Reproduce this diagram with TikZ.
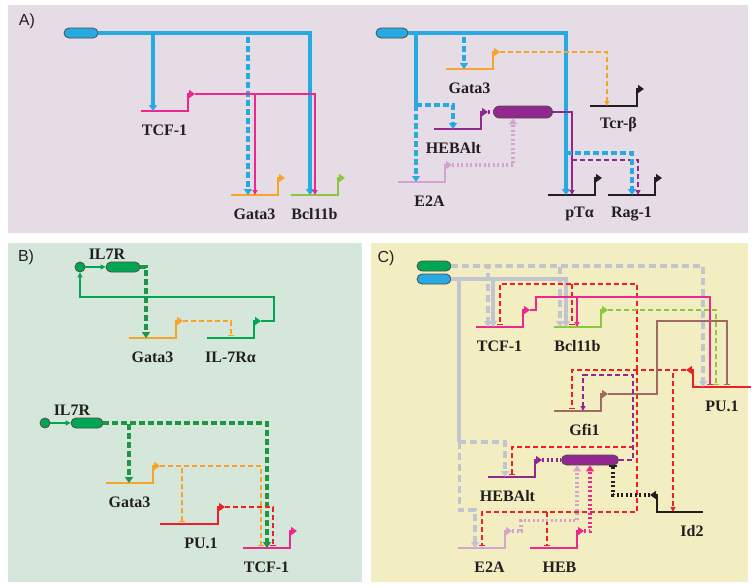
\documentclass[tikz,border=0pt]{standalone}
\usepackage{fontspec}
\setmainfont{Liberation Serif}
\setsansfont{Liberation Sans}
\usepackage{tikz}
\usetikzlibrary{arrows.meta, positioning, calc}

\definecolor{bgA}{RGB}{230,220,230}
\definecolor{bgB}{RGB}{213,230,218}
\definecolor{bgC}{RGB}{242,238,194}
\definecolor{cblue}{RGB}{39,170,225}
\definecolor{cmag}{RGB}{236,40,142}
\definecolor{corange}{RGB}{247,164,42}
\definecolor{clime}{RGB}{141,198,63}
\definecolor{cpurple}{RGB}{146,39,143}
\definecolor{clilac}{RGB}{214,162,208}
\definecolor{cgreen}{RGB}{0,166,81}
\definecolor{cdkgreen}{RGB}{30,150,70}
\definecolor{cred}{RGB}{237,32,39}
\definecolor{cbrown}{RGB}{158,106,98}
\definecolor{cgray}{RGB}{192,197,208}
\definecolor{cblack}{RGB}{35,31,32}

\tikzset{
  paneltag/.style={font=\sffamily\fontsize{16}{18}\selectfont, text=cblack},
  genelabel/.style={font=\bfseries\fontsize{16}{18}\selectfont, text=cblack,
                    inner sep=0pt},
  genebody/.style={line width=2.8pt, -{Triangle[length=6pt,width=8pt]}},
  capsule/.style={draw=cblack!80, line width=0.8pt, fill=#1, rounded corners=5pt,
                  minimum width=34pt, minimum height=10pt, inner sep=0pt},
  ligand/.style={circle, draw=cblack!80, line width=0.8pt, fill=cgreen,
                 minimum size=10pt, inner sep=0pt},
  arr/.style={-{Triangle[length=5pt,width=5pt]}},
  bigarr/.style={-{Triangle[length=6pt,width=8pt]}},
  inh/.style={-{Bar[width=6pt,line width=1.3pt]}},
  solidthick/.style={line width=3.6pt},
  dashthick/.style={line width=3.6pt, dash pattern=on 6pt off 3pt},
  dotthick/.style={line width=3.2pt, dash pattern=on 2pt off 2.5pt},
  thinline/.style={line width=1.5pt},
  dashthin/.style={line width=1.4pt, dash pattern=on 5pt off 3pt},
  graydash/.style={line width=3.6pt, draw=cgray, dash pattern=on 7pt off 4pt},
  graysolid/.style={line width=4pt, draw=cgray},
  reddash/.style={line width=1.4pt, draw=cred, dash pattern=on 5pt off 3pt}
}

% gene: [label opts]{name}{base start}{length}{colour}{label}
\newcommand{\gene}[6][]{%
  \coordinate (#2) at (#3);
  \draw[genebody, draw=#5] (#2) -- ++(#4,0) coordinate (#2-e)
    -- ++(0,-17) -- ++(7,0) coordinate (#2-p);
  \node[genelabel, #1] (#2-l) at ($(#2)+(#4/2,19)$) {#6};
}
% reversed gene, promoter on the left end
\newcommand{\rgene}[6][]{%
  \coordinate (#2) at (#3);
  \draw[genebody, draw=#5] ($(#2)+(#4,0)$) coordinate (#2-e) -- (#2)
    -- ++(0,-17) -- ++(-7,0) coordinate (#2-p);
  \node[genelabel, #1] (#2-l) at ($(#2)+(#4/2,19)$) {#6};
}

\begin{document}
\begin{tikzpicture}[x=1pt, y=-1pt]
  \useasboundingbox (0,0) rectangle (756,587);

  % panels
  \fill[bgA] (8,5) rectangle (748,233);
  \fill[bgB] (8,243) rectangle (362,582);
  \fill[bgC] (371,243) rectangle (748,582);
  \node[paneltag] (tagA) at (27,21) {A)};
  \node[paneltag] (tagB) at (26,257) {B)};
  \node[paneltag] (tagC) at (386,258) {C)};

  % A, left
  \node[capsule=cblue] (capA) at (81,33) {};
  \gene{tcfA}{141,111}{47}{cmag}{TCF-1}
  \gene{gataA}{231,195}{47}{corange}{Gata3}
  \gene{bclA}{291,195}{47}{clime}{Bcl11b}

  \draw[solidthick, draw=cblue, bigarr] (capA.east) -| ($(bclA)+(19,0)$);
  \draw[solidthick, draw=cblue, bigarr] (capA.east) -| ($(tcfA)+(12,0)$);
  \draw[dashthick, draw=cblue, bigarr] ($(gataA)+(17,-158)$) -- ($(gataA)+(17,0)$);
  \draw[thinline, draw=cmag, arr] (tcfA-p) -| ($(bclA)+(24,0)$);
  \draw[thinline, draw=cmag, arr] (tcfA-p) -| ($(gataA)+(24,0)$);

  % A, right
  \node[capsule=cblue, minimum width=32pt] (capA2) at (392,33) {};
  \node[capsule=cpurple, minimum width=59pt, minimum height=12pt,
        rounded corners=6pt] (cxA) at (523,112) {};
  \gene{gataA2}{446,69}{47}{corange}{Gata3}
  \gene[xshift=5pt]{tcrA}{590,106}{47}{cblack}{Tcr-β}
  \gene[xshift=-4pt]{hebaltA}{434,129}{47}{cpurple}{HEBAlt}
  \gene[xshift=8pt]{e2aA}{398,182}{47}{clilac}{E2A}
  \gene[xshift=8pt]{ptaA}{548,195}{47}{cblack}{pTα}
  \gene{ragA}{608,195}{47}{cblack}{Rag-1}

  \draw[solidthick, draw=cblue, bigarr] (capA2.east) -| ($(ptaA)+(18,0)$);
  \draw[solidthick, draw=cblue] (capA2.east) -| ($(e2aA)+(18,-77)$) coordinate (splitA);
  \draw[dashthick, draw=cblue, bigarr] (splitA) -- ($(e2aA)+(18,0)$);
  \draw[dashthick, draw=cblue, bigarr] (splitA) -| ($(hebaltA)+(19,0)$);
  \draw[dashthick, draw=cblue, bigarr] ($(gataA2)+(18,-32)$) -- ($(gataA2)+(18,0)$);
  \draw[dashthin, draw=corange, arr] (gataA2-p) -| ($(tcrA)+(17,0)$);
  \draw[dotthick, draw=cpurple] (hebaltA-p) -- (cxA.west);
  \draw[dotthick, draw=clilac, bigarr] (e2aA-p) -| ($(cxA.south)+(-10,0)$);
  \draw[thinline, draw=cpurple, arr] (cxA.east) -| ($(ptaA)+(24,0)$);
  \draw[dashthin, draw=cpurple, arr] ($(ptaA)+(24,-35)$) -| ($(ragA)+(30,0)$);
  \draw[dashthick, draw=cblue, bigarr] ($(ptaA)+(18,-42)$) -| ($(ragA)+(24,0)$);

  % B, top
  \node[genelabel] (il7rB1) at (107,254) {IL7R};
  \node[ligand] (cirB1) at (80,267) {};
  \node[capsule=cgreen] (capB1) at (123,267) {};
  \gene{gataB1}{129,338}{47}{corange}{Gata3}
  \gene{il7B}{207,338}{47}{cgreen}{IL-7Rα}

  \draw[line width=2pt, draw=cgreen, arr] (cirB1) -- (capB1);
  \draw[dashthick, draw=cdkgreen, bigarr] (capB1.east) -| ($(gataB1)+(17,0)$);
  \draw[dashthin, draw=corange, inh] (gataB1-p) -| ($(il7B)+(24,-2)$);
  \draw[thinline, draw=cgreen, arr] (il7B-p) -- ++(13,0) |- ($(cirB1)+(0,30)$) -- (cirB1);

  % B, bottom
  \node[genelabel] (il7rB2) at (72,410) {IL7R};
  \node[ligand] (cirB2) at (45,423) {};
  \node[capsule=cgreen, minimum width=32pt] (capB2) at (87,423) {};
  \gene{gataB2}{106,483}{47}{corange}{Gata3}
  \gene[xshift=12pt]{puB2}{160,524}{58}{cred}{PU.1}
  \gene{tcfB2}{243,548}{47}{cmag}{TCF-1}

  \draw[line width=2pt, draw=cgreen, arr] (cirB2) -- (capB2);
  \draw[dashthick, draw=cdkgreen, bigarr] (capB2.east) -| ($(tcfB2)+(24,0)$);
  \draw[dashthick, draw=cdkgreen, bigarr] (capB2.east) -| ($(gataB2)+(23,0)$);
  \draw[dashthin, draw=corange, inh] (gataB2-p) -| ($(tcfB2)+(18,-2)$);
  \draw[dashthin, draw=corange, inh] (gataB2-p) -| ($(puB2)+(22,-2)$);
  \draw[dashthin, draw=cred, inh] (puB2-p) -| ($(tcfB2)+(30,-2)$);

  % C
  \node[capsule=cgreen] (capC1) at (434,266) {};
  \node[capsule=cblue] (capC2) at (434,279) {};
  \node[capsule=cpurple, minimum width=57pt] (cxC) at (590,460) {};
  \gene{tcfC}{476,327}{47}{cmag}{TCF-1}
  \gene{bclC}{554,327}{47}{clime}{Bcl11b}
  \gene[xshift=7pt]{gfiC}{554,411}{47}{cbrown}{Gfi1}
  \rgene{puC}{693,387}{58}{cred}{PU.1}
  \gene[xshift=-4pt]{hebaltC}{488,477}{47}{cpurple}{HEBAlt}
  \gene[xshift=8pt]{e2aC}{458,548}{47}{clilac}{E2A}
  \gene[xshift=6pt]{hebC}{530,548}{47}{cmag}{HEB}
  \rgene[xshift=12pt]{id2C}{657,512}{46}{cblack}{Id2}

  % grey inputs
  \draw[graydash, bigarr] (capC1.east) -| ($(puC)+(10,0)$);
  \draw[graydash, bigarr] (capC1.east) -| ($(tcfC)+(12,0)$);
  \draw[graydash, bigarr] (capC1.east) -| ($(bclC)+(6,0)$);
  \draw[graysolid, bigarr] (capC2.east) -| ($(tcfC)+(17,0)$);
  \draw[graysolid, bigarr] (capC2.east) -| ($(bclC)+(12,0)$);
  \draw[graysolid] (capC2.east) -- ++(8,0) -- ++(0,163) coordinate (grC);
  \draw[graydash, bigarr] (grC) -| ($(hebaltC)+(17,0)$);
  \draw[graydash, bigarr] (grC) -- ++(0,68) -| ($(e2aC)+(17,0)$);

  % PU.1 outputs
  \coordinate (rjC) at ($(puC-p)+(-49,0)$);
  \draw[reddash, inh] (puC-p) -| ($(gfiC)+(18,-2)$);
  \draw[reddash, arr] (puC-p) -| ($(id2C)+(16,0)$);
  \draw[reddash, inh] (rjC) |- ($(tcfC)+(24,-43)$) -- ($(tcfC)+(24,-2)$);
  \draw[reddash, inh] ($(bclC)+(18,-43)$) -- ($(bclC)+(18,-2)$);
  \draw[reddash, inh] (rjC) |- ($(hebaltC)+(24,-30)$) -- ($(hebaltC)+(24,-2)$);
  \draw[reddash, inh] (rjC) |- ($(e2aC)+(24,-36)$) -- ($(e2aC)+(24,-2)$);
  \draw[reddash, inh] ($(hebC)+(17,-36)$) -- ($(hebC)+(17,-2)$);

  % TCF-1, Bcl11b, Gfi1 outputs
  \draw[thinline, draw=cmag, inh] (tcfC-p) -- ++(6,0) |- ($(puC)+(17,-90)$)
      -- ($(puC)+(17,-2)$);
  \draw[thinline, draw=cmag, arr] ($(bclC)+(23,-30)$) -- ($(bclC)+(23,0)$);
  \draw[dashthin, draw=clime, inh] (bclC-p) -| ($(puC)+(23,-2)$);
  \draw[thinline, draw=cbrown, inh] (gfiC-p) -- ++(49,0) |- ($(puC)+(34,-66)$)
      -- ($(puC)+(34,-2)$);
  \draw[dashthin, draw=cpurple, arr] (cxC.east) -- ++(14,0) |- ($(gfiC)+(29,-36)$)
      -- ($(gfiC)+(29,0)$);

  % complex
  \draw[dotthick, draw=cpurple] (hebaltC-p) -- (cxC.west);
  \draw[dotthick, draw=clilac, bigarr] (e2aC-p) -- ++(9,0) |- ($(cxC.south)+(-13,55)$)
      -- ($(cxC.south)+(-13,0)$);
  \draw[dotthick, draw=cmag, bigarr] (hebC-p) -| (cxC.south);
  \draw[dotthick, draw=cblack, -{Bar[width=8pt,line width=1.5pt]}] (id2C-p)
      -| ($(cxC.south)+(23,0)$);
\end{tikzpicture}
\end{document}
